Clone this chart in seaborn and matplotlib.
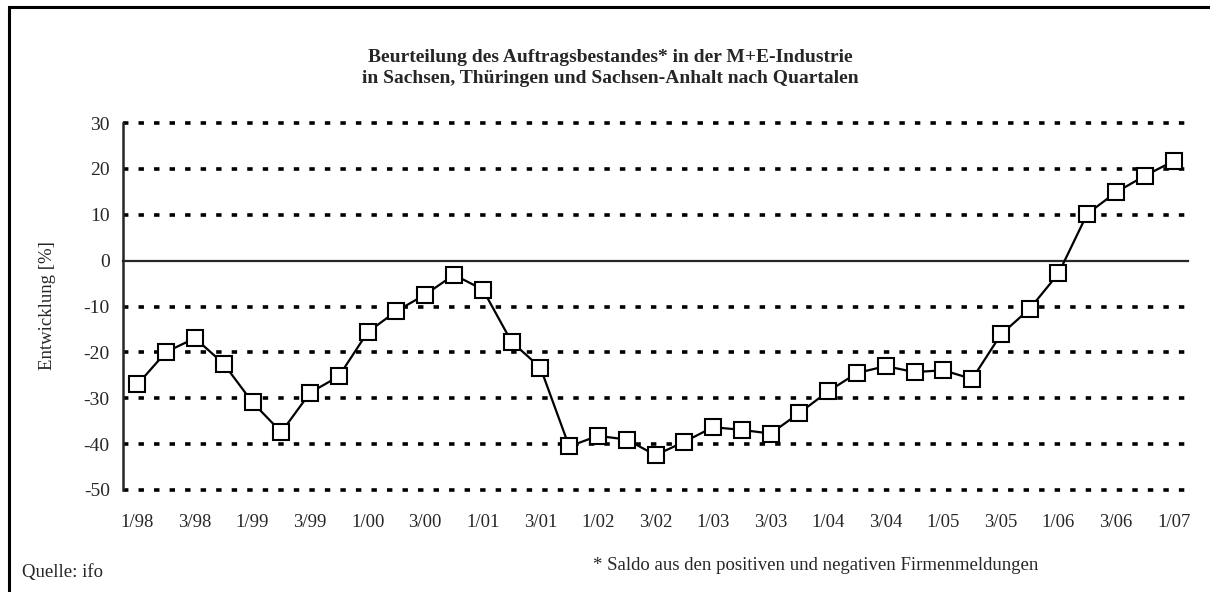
import numpy as np
import matplotlib
matplotlib.use('Agg')
import matplotlib.pyplot as plt
import matplotlib.patches as patches
import seaborn as sns

# Data
quarters = ['1/98', '2/98', '3/98', '4/98', '1/99', '2/99', '3/99', '4/99',
            '1/00', '2/00', '3/00', '4/00', '1/01', '2/01', '3/01', '4/01',
            '1/02', '2/02', '3/02', '4/02', '1/03', '2/03', '3/03', '4/03',
            '1/04', '2/04', '3/04', '4/04', '1/05', '2/05', '3/05', '4/05',
            '1/06', '2/06', '3/06', '4/06', '1/07']
saldo = [-27.0, -19.9, -16.9, -22.5, -30.9, -37.4, -28.8, -25.2,
         -15.6, -11.0, -7.4, -3.1, -6.3, -17.7, -23.3, -40.5,
         -38.2, -39.0, -42.4, -39.5, -36.3, -36.9, -37.7, -33.2,
         -28.5, -24.5, -23.0, -24.3, -23.9, -25.8, -16.1, -10.5,
         -2.8, 10.2, 14.9, 18.5, 21.7]
yticks = [30, 20, 10, 0, -10, -20, -30, -40, -50]

title = ('Beurteilung des Auftragsbestandes* in der M+E-Industrie\n'
         'in Sachsen, Thüringen und Sachsen-Anhalt nach Quartalen')
ylabel = 'Entwicklung [%]'
source = 'Quelle: ifo'
footnote = '* Saldo aus den positiven und negativen Firmenmeldungen'

sns.set_style('white')
plt.rcParams['font.family'] = ['Liberation Serif', 'DejaVu Serif']
plt.rcParams['font.size'] = 13.5

W, H = 1210, 592
fig = plt.figure(figsize=(W / 100, H / 100), dpi=100)
ax = fig.add_axes([123 / W, 1 - 490 / H, (1188 - 123) / W, (490 - 123) / H])

x = np.arange(len(quarters))

# dotted grid lines
for v in yticks:
    if v != 0:
        ax.axhline(v, color='black', lw=2.6, dashes=(1.5, 2.8), zorder=1, clip_on=False)

sns.lineplot(x=x, y=saldo, ax=ax, color='black', lw=1.6, marker='s',
             markersize=11, markerfacecolor='white', markeredgecolor='black',
             markeredgewidth=1.5, zorder=3)

ax.set_xlim(-0.5, len(quarters) - 0.5)
ax.set_ylim(-50, 30)
ax.set_yticks(yticks)
ax.set_yticklabels([str(v) for v in yticks])
ax.tick_params(axis='y', direction='inout', length=9, width=1.5, pad=5, labelsize=14)

# x axis sits on the zero line, ticks at category boundaries
ax.spines['bottom'].set_position(('data', 0))
ax.spines['bottom'].set_linewidth(1.6)
ax.spines['left'].set_linewidth(1.8)
ax.spines['top'].set_visible(False)
ax.spines['right'].set_visible(False)
ax.set_xticks(np.arange(-0.5, len(quarters), 1))
ax.set_xticklabels([])
ax.tick_params(axis='x', direction='out', length=5.5, width=1.5)

# tick labels at the bottom, every second quarter
sec = ax.secondary_xaxis('bottom')
sec.set_xticks(x[::2])
sec.set_xticklabels(quarters[::2])
sec.tick_params(length=0, pad=17, labelsize=13.5)
sec.spines['bottom'].set_visible(False)

ax.set_ylabel('')
ax.set_xlabel('')

fig.text(610 / W, 1 - 68 / H, title, ha='center', va='center',
         fontsize=14, fontweight='bold', linespacing=1.3)
fig.text(48 / W, 1 - 306 / H, ylabel, rotation=90, ha='center', va='center', fontsize=13.5)
fig.text(22 / W, 1 - 572 / H, source, ha='left', va='center', fontsize=13.5)
fig.text(593 / W, 1 - 565 / H, footnote, ha='left', va='center', fontsize=13.5)

# outer frame (left and top edges visible)
fig.patches.append(patches.Rectangle((8.5 / W, -0.1), 1.2, 1.1 - 7 / H,
                                     transform=fig.transFigure, fill=False,
                                     lw=2.2, edgecolor='black'))

fig.savefig('out.png', dpi=100)
